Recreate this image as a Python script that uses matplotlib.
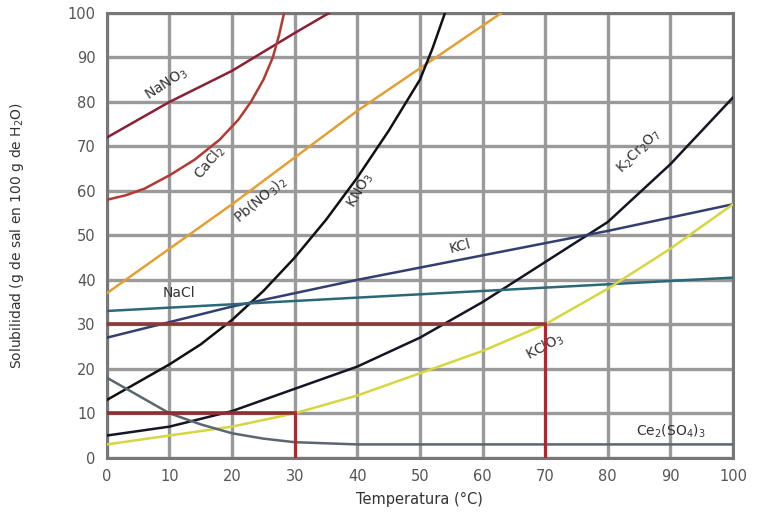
import matplotlib.pyplot as plt

# solubility curves (temperature °C -> g per 100 g H2O)
nano3_t = [0, 10, 20, 30, 35.5]
nano3_s = [72, 80, 87, 95.5, 100]

cacl2_t = [0, 3, 6, 10, 14, 18, 21, 23, 25, 26.5, 27.5, 28.3]
cacl2_s = [58, 59, 60.5, 63.5, 67, 71.5, 76, 80, 85, 90, 95, 100]

pbno3_t = [0, 20, 40, 63]
pbno3_s = [37, 57, 78, 100]

kno3_t = [0, 5, 10, 15, 20, 25, 30, 35, 40, 45, 50, 52, 54]
kno3_s = [13, 17, 21, 25.5, 31, 37.5, 45, 53.5, 63, 73.5, 85, 92, 100]

k2cr2o7_t = [0, 10, 20, 30, 40, 50, 60, 70, 80, 90, 100]
k2cr2o7_s = [5, 7, 10.5, 15.5, 20.5, 27, 35, 44, 53, 66, 81]

kcl_t = [0, 20, 40, 60, 80, 100]
kcl_s = [27, 34, 40, 45.5, 51, 57]

nacl_t = [0, 20, 40, 60, 80, 100]
nacl_s = [33, 34.5, 36, 37.5, 39, 40.5]

kclo3_t = [0, 10, 20, 30, 40, 50, 60, 70, 80, 90, 100]
kclo3_s = [3, 5, 7, 10, 14, 19, 24, 30, 38, 47, 57]

ce2so4_t = [0, 5, 10, 15, 20, 25, 30, 40, 100]
ce2so4_s = [18, 14, 10, 7.5, 5.5, 4.3, 3.5, 3, 3]

ticks = list(range(0, 101, 10))

fig = plt.figure(figsize=(7.58, 5.19), dpi=100)
ax = fig.add_axes([0.141, 0.118, 0.826, 0.857])

ax.set_xlim(0, 100)
ax.set_ylim(0, 100)
ax.set_xticks(ticks)
ax.set_yticks(ticks)
ax.grid(True, color="#9a9a9a", linewidth=2.4, zorder=0)
ax.tick_params(length=0, labelsize=10.5, labelcolor="#555555", pad=8)
for sp in ax.spines.values():
    sp.set_color("#777777")
    sp.set_linewidth(2.2)

lw = 1.8
ax.plot(nano3_t, nano3_s, color="#8a1f35", lw=lw, zorder=3)
ax.plot(cacl2_t, cacl2_s, color="#b33a32", lw=lw, zorder=3)
ax.plot(pbno3_t, pbno3_s, color="#e3a032", lw=lw, zorder=3)
ax.plot(kno3_t, kno3_s, color="#111111", lw=lw, zorder=3)
ax.plot(k2cr2o7_t, k2cr2o7_s, color="#151525", lw=lw, zorder=3)
ax.plot(kcl_t, kcl_s, color="#33406f", lw=lw, zorder=3)
ax.plot(nacl_t, nacl_s, color="#2c6878", lw=lw, zorder=3)
ax.plot(kclo3_t, kclo3_s, color="#d6d640", lw=lw, zorder=3)
ax.plot(ce2so4_t, ce2so4_s, color="#5a6670", lw=lw, zorder=3)

# reading guides
ax.plot([0, 30], [10, 10], color="#8b3030", lw=2.6, zorder=4)
ax.plot([30, 30], [0, 10], color="#c0202a", lw=2.2, zorder=4)
ax.plot([0, 70], [30, 30], color="#8b3a3a", lw=2.6, zorder=4)
ax.plot([70, 70], [0, 30], color="#c0202a", lw=2.2, zorder=4)

tc = "#333333"
fs = 10
ax.text(9.5, 84, "NaNO$_3$", rotation=33, color=tc, fontsize=fs, ha="center", va="center")
ax.text(16.5, 66.5, "CaCl$_2$", rotation=50, color=tc, fontsize=fs, ha="center", va="center")
ax.text(24.5, 58, "Pb(NO$_3$)$_2$", rotation=40, color=tc, fontsize=fs, ha="center", va="center")
ax.text(40.5, 60, "KNO$_3$", rotation=60, color=tc, fontsize=fs, ha="center", va="center")
ax.text(85, 69, "K$_2$Cr$_2$O$_7$", rotation=45, color=tc, fontsize=fs, ha="center", va="center")
ax.text(56.5, 47.5, "KCl", rotation=15, color=tc, fontsize=fs, ha="center", va="center")
ax.text(11.5, 37, "NaCl", rotation=0, color=tc, fontsize=fs, ha="center", va="center")
ax.text(70, 25, "KClO$_3$", rotation=28, color=tc, fontsize=fs, ha="center", va="center")
ax.text(90, 6, "Ce$_2$(SO$_4$)$_3$", rotation=0, color=tc, fontsize=fs, ha="center", va="center")

ax.set_xlabel("Temperatura (°C)", fontsize=10.5, color=tc, labelpad=6)
ax.set_ylabel("Solubilidad (g de sal en 100 g de H$_2$O)", fontsize=10, color=tc, labelpad=30)

fig.savefig("out.png", dpi=100)
plt.close(fig)
